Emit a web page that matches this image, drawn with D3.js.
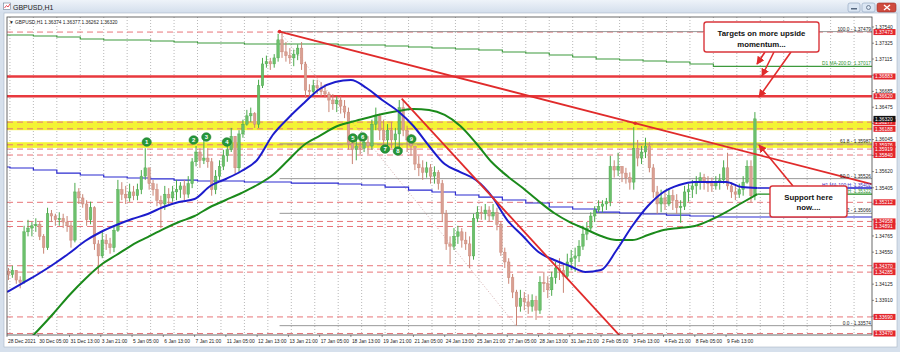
<!DOCTYPE html>
<html><head><meta charset="utf-8">
<script src="https://cdn.jsdelivr.net/npm/d3@7"></script>
<style>html,body{margin:0;padding:0;background:#d9e3ef;}svg{display:block;font-family:"Liberation Sans",Arial,sans-serif;}</style>
</head><body><svg id="c" width="900" height="352"></svg>
<script>
// ---------- DATA ----------
const symbol = "GBPUSD,H1";
const infoLine = "GBPUSD,H1  1.36374 1.36377 1.36262 1.36320";
const barsPerCandle = 4;            // each drawn candle groups 4 hourly bars
const firstOpen = 1.3430;
const highs = [1.3434,1.3437,1.3431,1.3423,1.3490,1.3498,1.3495,1.3500,1.3495,1.3479,
1.3514,1.3511,1.3506,1.3508,1.3506,1.3503,1.3495,1.3547,1.3540,1.3532,
1.3524,1.3522,1.3516,1.3471,1.3482,1.3479,1.3474,1.3490,1.3551,1.3548,
1.3543,1.3546,1.3543,1.3546,1.3564,1.3593,1.3567,1.3551,1.3546,1.3530,
1.3543,1.3540,1.3543,1.3551,1.3548,1.3551,1.3556,1.3580,1.3596,1.3593,
1.3608,1.3593,1.3580,1.3564,1.3577,1.3591,1.3601,1.3620,1.3609,1.3617,
1.3631,1.3644,1.3647,1.3641,1.3684,1.3713,1.3716,1.3713,1.3718,1.3745,
1.37479,1.3734,1.3726,1.3724,1.3731,1.3734,1.3708,1.3678,1.3684,1.3684,
1.3681,1.3678,1.3668,1.3665,1.3662,1.3662,1.3657,1.3647,1.3607,1.3604,
1.3609,1.3612,1.3609,1.3631,1.3647,1.3639,1.3631,1.3625,1.3628,1.3620,
1.3657,1.3657,1.3623,1.3612,1.3596,1.3583,1.3577,1.3575,1.3572,1.3569,
1.3564,1.3551,1.3511,1.3476,1.3487,1.3490,1.3487,1.3482,1.3476,1.3506,
1.3516,1.3516,1.3519,1.3516,1.3519,1.3514,1.3495,1.3461,1.3447,1.3426,
1.3405,1.3405,1.3402,1.3399,1.3399,1.3397,1.3423,1.3429,1.3423,1.3429,
1.3442,1.3447,1.3439,1.3453,1.3458,1.3461,1.3471,1.3490,1.3495,1.3508,
1.3516,1.3524,1.3524,1.3527,1.3583,1.3577,1.3587,1.3569,1.3567,1.3561,
1.3621,1.3604,1.3596,1.3607,1.3601,1.3572,1.3543,1.3538,1.3535,1.3540,
1.3538,1.3532,1.3524,1.3543,1.3546,1.3551,1.3556,1.3561,1.3559,1.3556,
1.3554,1.3556,1.3559,1.3577,1.3587,1.3548,1.3543,1.3546,1.3556,1.3577,
1.3577,1.3641];
const lows = [1.3418,1.3421,1.3413,1.3407,1.3413,1.3476,1.3476,1.3482,1.3471,1.3453,
1.3458,1.3495,1.3490,1.3490,1.3487,1.3482,1.3461,1.3468,1.3519,1.3514,
1.3490,1.3492,1.3458,1.3426,1.3447,1.3458,1.3453,1.3455,1.3482,1.3524,
1.3519,1.3522,1.3524,1.3524,1.3532,1.3551,1.3538,1.3530,1.3516,1.3487,
1.3511,1.3519,1.3522,1.3524,1.3527,1.3524,1.3527,1.3540,1.3569,1.3567,
1.3572,1.3567,1.3530,1.3532,1.3551,1.3564,1.3575,1.3588,1.3559,1.3561,
1.3607,1.3623,1.3628,1.3620,1.3620,1.3673,1.3700,1.3697,1.3700,1.3708,
1.3713,1.3708,1.3705,1.3702,1.3710,1.3697,1.3660,1.3660,1.3662,1.3665,
1.3662,1.3660,1.3641,1.3644,1.3641,1.3639,1.3633,1.3591,1.3572,1.3577,
1.3585,1.3588,1.3585,1.3591,1.3617,1.3604,1.3591,1.3596,1.3593,1.3588,
1.3591,1.3609,1.3588,1.3583,1.3564,1.3556,1.3551,1.3554,1.3546,1.3546,
1.3538,1.3495,1.3458,1.3439,1.3458,1.3466,1.3461,1.3458,1.3434,1.3445,
1.3495,1.3498,1.3498,1.3495,1.3498,1.3484,1.3450,1.3434,1.3413,1.3394,
1.33574,1.3376,1.3378,1.3373,1.3376,1.3365,1.3373,1.3402,1.3394,1.3397,
1.3413,1.3418,1.3401,1.3421,1.3431,1.3429,1.3442,1.3458,1.3471,1.3482,
1.3495,1.3508,1.3508,1.3511,1.3516,1.3554,1.3556,1.3548,1.3546,1.3538,
1.3538,1.3569,1.3572,1.3580,1.3561,1.3527,1.3506,1.3508,1.3511,1.3516,
1.3511,1.3506,1.3494,1.3511,1.3522,1.3527,1.3532,1.3538,1.3538,1.3535,
1.3535,1.3538,1.3538,1.3546,1.3538,1.3527,1.3524,1.3527,1.3530,1.3546,
1.3521,1.3524];
const closes = [1.3425,1.3431,1.3418,1.3415,1.3482,1.3487,1.3490,1.3492,1.3476,1.3461,
1.3506,1.3503,1.3498,1.3500,1.3495,1.3490,1.3471,1.3535,1.3527,1.3519,
1.3498,1.3514,1.3466,1.3450,1.3471,1.3466,1.3461,1.3484,1.3538,1.3532,
1.3527,1.3535,1.3530,1.3538,1.3556,1.3567,1.3546,1.3538,1.3524,1.3519,
1.3532,1.3527,1.3535,1.3538,1.3543,1.3532,1.3546,1.3575,1.3588,1.3577,
1.3580,1.3575,1.3538,1.3556,1.3569,1.3583,1.3591,1.3609,1.3567,1.3612,
1.3625,1.3636,1.3639,1.3625,1.3676,1.3705,1.3708,1.3705,1.3713,1.3737,
1.3721,1.3716,1.3713,1.3718,1.3726,1.3705,1.3670,1.3668,1.3676,1.3673,
1.3668,1.3665,1.3657,1.3652,1.3657,1.3649,1.3641,1.3599,1.3591,1.3596,
1.3593,1.3601,1.3596,1.3625,1.3636,1.3617,1.3604,1.3617,1.3604,1.3612,
1.3647,1.3617,1.3604,1.3596,1.3572,1.3567,1.3561,1.3567,1.3556,1.3561,
1.3546,1.3506,1.3466,1.3463,1.3476,1.3482,1.3471,1.3466,1.3450,1.3500,
1.3508,1.3506,1.3511,1.3503,1.3508,1.3492,1.3455,1.3442,1.3421,1.3402,
1.3383,1.3394,1.3389,1.3383,1.3391,1.3378,1.3415,1.3413,1.3405,1.3421,
1.3434,1.3431,1.3423,1.3442,1.3447,1.3450,1.3463,1.3479,1.3487,1.3503,
1.3511,1.3516,1.3519,1.3522,1.3569,1.3564,1.3569,1.3560,1.3554,1.3548,
1.3593,1.3580,1.3588,1.3596,1.3567,1.3535,1.3519,1.3527,1.3519,1.3530,
1.3524,1.3514,1.3516,1.3535,1.3538,1.3543,1.3548,1.3554,1.3548,1.3546,
1.3543,1.3548,1.3551,1.3567,1.3543,1.3535,1.3532,1.3538,1.3548,1.3569,
1.3530,1.3632];

// hourly moving averages, one value every 16 bars
const maStep = 16;
const ma100H1 = [1.34021,1.34140,1.34260,1.34393,1.34539,1.34698,1.34818,1.34911,1.34990,1.35057,
1.35150,1.35216,1.35256,1.35429,1.35522,1.35628,1.35774,1.36106,1.36332,1.36531,
1.36717,1.36810,1.36836,1.36730,1.36571,1.36424,1.36225,1.35960,1.35720,1.35614,
1.35508,1.35296,1.34977,1.34764,1.34552,1.34446,1.34366,1.34286,1.34313,1.34579,
1.34897,1.35163,1.35349,1.35442,1.35482,1.35482,1.35482,1.35415,1.35402];
const ma200H1 = [1.33091,1.33304,1.33516,1.33742,1.33981,1.34194,1.34379,1.34512,1.34645,1.34751,
1.34857,1.34950,1.35030,1.35150,1.35243,1.35336,1.35442,1.35575,1.35774,1.35973,
1.36093,1.36212,1.36278,1.36332,1.36385,1.36424,1.36451,1.36438,1.36372,1.36225,
1.36000,1.35747,1.35561,1.35402,1.35229,1.35070,1.34950,1.34857,1.34764,1.34711,
1.34711,1.34778,1.34844,1.34871,1.34897,1.34977,1.35083,1.35203,1.35322];
// daily moving averages, one value per trading day (first = partial day)
const d1Ma200 = [1.37434,1.37434,1.37421,1.37407,1.37381,1.37367,1.37367,1.37354,1.37341,1.37328,
1.37328,1.37314,1.37314,1.37314,1.37314,1.37301,1.37301,1.37288,1.37274,1.37261,
1.37248,1.37235,1.37208,1.37195,1.37168,1.37142,1.37115,1.37102,1.37089,1.37075,
1.37049,1.37017];
const d1Ma100 = [1.35681,1.35668,1.35641,1.35601,1.35575,1.35548,1.35535,1.35522,1.35508,1.35495,
1.35495,1.35482,1.35482,1.35468,1.35468,1.35455,1.35442,1.35415,1.35375,1.35349,
1.35309,1.35282,1.35243,1.35203,1.35150,1.35123,1.35083,1.35070,1.35057,1.35043,
1.35030,1.35017];

const dateLabels = ["28 Dec 2021","30 Dec 05:00","31 Dec 13:00","3 Jan 21:00","5 Jan 05:00","6 Jan 13:00",
"7 Jan 21:00","11 Jan 05:00","12 Jan 13:00","13 Jan 21:00","17 Jan 05:00","18 Jan 13:00","19 Jan 21:00",
"21 Jan 05:00","24 Jan 13:00","25 Jan 21:00","27 Jan 05:00","28 Jan 13:00","31 Jan 21:00","2 Feb 05:00",
"3 Feb 13:00","4 Feb 21:00","8 Feb 05:00","9 Feb 13:00"];
const barsPerLabel = 32;
const priceTicks = [1.37540,1.37325,1.37115,1.36900,1.36685,1.36475,1.36260,1.36045,1.35835,1.35620,
1.35405,1.35190,1.34980,1.34765,1.34550,1.34340,1.34125,1.33910,1.33700];

const thickRedLevels = [1.36883,1.36620];
const dashedLevels = [1.37473,1.36277,1.36188,1.35976,1.35919,1.35840,1.35212,1.34958,1.34891,1.34370,1.34285,1.33690,1.33470];
const yellowBands = [[1.36290,1.36170],[1.36010,1.35935]];
const fibHigh = 1.37479, fibLow = 1.33574, fibHighBar = 279, fibLowBar = 521;
const fibLevels = [100.0, 61.8, 50.0, 38.2, 0.0];
const trendA = [[279,1.37479],[643,1.36262]];
const trendB = [[404,1.36590],[587,1.34008]];
const lastPrice = 1.36320;
const markerBars = [143,191,204,225,354,364,387,400,414];
const markerPrices = [1.36013,1.36039,1.36079,1.36013,1.36066,1.36079,1.35920,1.35893,1.36053];
const targetNote = ["Targets on more upside","momentum..."];
const supportNote = ["Support  here","now...."];

// ---------- SCALES ----------
const svg = d3.select("#c");
const P = {l:7,t:17,r:872,b:335};
const pxPerBar = 0.977;
const lastBarAtEdge = Math.round((P.r - P.l)/pxPerBar);
const x = d3.scaleLinear().domain([0,lastBarAtEdge]).range([P.l, P.l+lastBarAtEdge*pxPerBar]);
const y = d3.scaleLinear().domain([1.33450,1.37673]).range([P.b,P.t]);

// ---------- WINDOW CHROME ----------
const defs = svg.append("defs");
const g1 = defs.append("linearGradient").attr("id","tb").attr("x1",0).attr("x2",0).attr("y1",0).attr("y2",1);
g1.append("stop").attr("offset","0").attr("stop-color","#eef3f9");
g1.append("stop").attr("offset","1").attr("stop-color","#d3deec");
svg.append("rect").attr("width",900).attr("height",352).attr("fill","#d6e0ec");
svg.append("rect").attr("width",900).attr("height",13).attr("fill","url(#tb)");
svg.append("rect").attr("x",4).attr("y",13).attr("width",893).attr("height",334).attr("fill","#fff").attr("stroke","#a9b6c6").attr("stroke-width",0.6);
// icon + title
svg.append("rect").attr("x",3.5).attr("y",3).attr("width",7).attr("height",6.5).attr("fill","#fff").attr("stroke","#6b7d93").attr("stroke-width",0.6);
svg.append("path").attr("d","M4.5 8 L6.5 5.5 L8 7 L10 4").attr("fill","none").attr("stroke","#d23").attr("stroke-width",0.8);
svg.append("text").attr("x",13).attr("y",9.5).attr("font-size",7).attr("fill","#1b1b1b").text(symbol);
// buttons
const btn=(bx,w,fill,stroke)=>svg.append("rect").attr("x",bx).attr("y",3).attr("width",w).attr("height",9).attr("rx",2).attr("fill",fill).attr("stroke",stroke).attr("stroke-width",0.6);
btn(848,12,"#dbe6f3","#8fa3bd"); btn(862,13,"#dbe6f3","#8fa3bd"); btn(877,19,"#cf4b3f","#9b2e25");
svg.append("rect").attr("x",851).attr("y",8).attr("width",6).attr("height",1.5).attr("fill","#55677f");
svg.append("circle").attr("cx",868.5).attr("cy",7.5).attr("r",2).attr("fill","none").attr("stroke","#55677f").attr("stroke-width",0.8);
svg.append("path").attr("d","M884 5 L890 10 M890 5 L884 10").attr("stroke","#fff").attr("stroke-width",1.4);

// ---------- PLOT ----------
defs.append("clipPath").attr("id","clip").append("rect").attr("x",P.l).attr("y",P.t).attr("width",P.r-P.l).attr("height",P.b-P.t);
const plot = svg.append("g").attr("clip-path","url(#clip)");

// day grid (day boundaries every 24 bars, first at bar 3)
const dayStarts = d3.range(3, lastBarAtEdge, 24);
plot.selectAll(".vg").data(dayStarts).join("line").attr("x1",d=>x(d)).attr("x2",d=>x(d))
  .attr("y1",P.t).attr("y2",P.b).attr("stroke","#9a9a9a").attr("stroke-width",0.7).attr("stroke-dasharray","1,2");

// yellow zones
plot.selectAll(".yb").data(yellowBands).join("rect").attr("x",P.l).attr("width",P.r-P.l)
  .attr("y",d=>y(d[0])).attr("height",d=>y(d[1])-y(d[0])).attr("fill","#f3f335");
// dashed levels
plot.selectAll(".dl").data(dashedLevels).join("line").attr("x1",P.l).attr("x2",P.r)
  .attr("y1",d=>y(d)).attr("y2",d=>y(d)).attr("stroke","#e8767a").attr("stroke-width",1).attr("stroke-dasharray","6,4");
// thick red levels
plot.selectAll(".tl").data(thickRedLevels).join("line").attr("x1",P.l).attr("x2",P.r)
  .attr("y1",d=>y(d)).attr("y2",d=>y(d)).attr("stroke","#e8393e").attr("stroke-width",2.4);

// fibonacci
const fibPrice = lv => fibLow + (fibHigh-fibLow)*lv/100;
plot.selectAll(".fl").data(fibLevels).join("line").attr("x1",x(fibHighBar)).attr("x2",P.r)
  .attr("y1",d=>y(fibPrice(d))).attr("y2",d=>y(fibPrice(d))).attr("stroke","#8c8c8c").attr("stroke-width",0.9);
plot.append("line").attr("x1",x(fibHighBar)).attr("y1",y(fibHigh)).attr("x2",x(fibLowBar)).attr("y2",y(fibLow))
  .attr("stroke","#c99a9a").attr("stroke-width",0.8).attr("stroke-dasharray","1,2");

// daily MAs (step lines)
const dayX = i => 3 + 24*(i-1);
function stepLine(vals,color,w){
  const pts = vals.map((v,i)=>[dayX(i),v]); pts.push([lastBarAtEdge+2, vals[vals.length-1]]);
  plot.append("path").attr("d",d3.line().x(d=>x(d[0])).y(d=>y(d[1])).curve(d3.curveStepAfter)(pts))
    .attr("fill","none").attr("stroke",color).attr("stroke-width",w);
}
stepLine(d1Ma200,"#3d9a3d",1.1);
stepLine(d1Ma100,"#2b2bd0",1.2);

// candles
const candles = closes.map((c,k)=>({k, o: k? closes[k-1]: firstOpen, h: highs[k], l: lows[k], c}));
const cx = k => x(k*barsPerCandle + 1.5);
const cg = plot.append("g");
cg.selectAll("line").data(candles).join("line").attr("x1",d=>cx(d.k)).attr("x2",d=>cx(d.k))
  .attr("y1",d=>y(Math.max(d.h,d.o,d.c))).attr("y2",d=>y(Math.min(d.l,d.o,d.c)))
  .attr("stroke",d=>d.c>=d.o?"#4aa84a":"#c98474").attr("stroke-width",1);
cg.selectAll("rect").data(candles).join("rect").attr("x",d=>cx(d.k)-1.3).attr("width",2.6)
  .attr("y",d=>y(Math.max(d.o,d.c))).attr("height",d=>Math.max(1,Math.abs(y(d.o)-y(d.c))))
  .attr("fill",d=>d.c>=d.o?"#6cc06c":"#d9a093").attr("stroke",d=>d.c>=d.o?"#4aa84a":"#c98474").attr("stroke-width",0.4);

// hourly MAs
function maLine(vals,color){
  const pts = vals.map((v,i)=>[i*maStep, v]);
  plot.append("path").attr("d",d3.line().x(d=>x(d[0])).y(d=>y(d[1])).curve(d3.curveMonotoneX)(pts))
    .attr("fill","none").attr("stroke",color).attr("stroke-width",2);
  const lv = vals[vals.length-1];
  plot.append("line").attr("x1",x((vals.length-1)*maStep)).attr("x2",P.r).attr("y1",y(lv)).attr("y2",y(lv))
    .attr("stroke",color).attr("stroke-width",1.3);
}
maLine(ma200H1,"#1b8a1b");
maLine(ma100H1,"#1c1ccc");

// trendlines
function trend(t, toEdge){
  const s = (t[1][1]-t[0][1])/(t[1][0]-t[0][0]);
  const endBar = toEdge ? lastBarAtEdge : t[0][0] + (fibLow - 0.002 - t[0][1])/s;
  plot.append("line").attr("x1",x(t[0][0])).attr("y1",y(t[0][1])).attr("x2",x(endBar)).attr("y2",y(t[0][1]+s*(endBar-t[0][0])))
    .attr("stroke","#e02b2b").attr("stroke-width",1.8);
}
trend(trendA,true);
trend(trendB,false);
plot.selectAll(".td").data([trendA[0],trendA[1]]).join("circle").attr("cx",d=>x(d[0])).attr("cy",d=>y(d[1])).attr("r",1.8).attr("fill","#e02b2b");

// numbered markers
const mk = plot.selectAll(".mk").data(markerBars).join("g").attr("transform",(d,i)=>`translate(${x(d)},${y(markerPrices[i])})`);
mk.append("ellipse").attr("rx",4.6).attr("ry",4.3).attr("fill","#27973a").attr("stroke","#177a28").attr("stroke-width",0.6);
mk.append("text").attr("text-anchor","middle").attr("y",2).attr("font-size",6).attr("font-weight","bold").attr("fill","#fff").text((d,i)=>i+1);

// line labels
const lab = (tx,ty,t,col)=>plot.append("text").attr("x",tx).attr("y",ty).attr("text-anchor","end").attr("font-size",4.8).attr("fill",col).text(t);
fibLevels.forEach(lv=>lab(P.r-1, y(fibPrice(lv))-1, `${lv.toFixed(1)} - ${fibPrice(lv).toFixed(5)}`, "#222"));
lab(P.r-1, y(d1Ma200[d1Ma200.length-1])-1.2, `D1 MA-200:D: ${d1Ma200[d1Ma200.length-1].toFixed(5)}`, "#2f8f2f");
lab(P.r-1, y(ma100H1[ma100H1.length-1])-1.5, `H1 MA-100:H: ${ma100H1[ma100H1.length-1].toFixed(5)}`, "#3a2fc0");
lab(P.r-1, y(ma200H1[ma200H1.length-1])-1, `H1 MA-200:H: ${ma200H1[ma200H1.length-1].toFixed(5)}`, "#2f8f2f");

// annotation boxes + arrows
const ann = svg.append("g");
defs.append("marker").attr("id","ah").attr("viewBox","0 0 10 10").attr("refX",9).attr("refY",5)
  .attr("markerWidth",5).attr("markerHeight",5).attr("orient","auto")
  .append("path").attr("d","M0,0 L10,5 L0,10 z").attr("fill","#e02b2b");
const arrow=(x1,y1,x2,y2)=>ann.append("line").attr("x1",x1).attr("y1",y1).attr("x2",x2).attr("y2",y2)
  .attr("stroke","#e02b2b").attr("stroke-width",1.6).attr("marker-end","url(#ah)");
arrow(765,52,757,64); arrow(774,52,762,76); arrow(791,52,759,97);
arrow(793,186,759,145);
function box(bx,by,bw,bh,lines,ty,dy){
  ann.append("rect").attr("x",bx).attr("y",by).attr("width",bw).attr("height",bh).attr("rx",2.5)
    .attr("fill","#fff").attr("stroke","#d9363b").attr("stroke-width",1.4);
  lines.forEach((t,i)=>ann.append("text").attr("x",bx+bw/2).attr("y",ty+i*dy).attr("text-anchor","middle")
    .attr("font-size",7.8).attr("font-weight","bold").attr("fill","#111").text(t));
}
box(704,22,115,30,targetNote,35.5,11);
box(770,186,77,31,supportNote,200,9.5);

// plot frame
svg.append("rect").attr("x",P.l).attr("y",P.t).attr("width",P.r-P.l).attr("height",P.b-P.t).attr("fill","none").attr("stroke","#444").attr("stroke-width",0.8);
svg.append("text").attr("x",9).attr("y",23.5).attr("font-size",4.8).attr("fill","#222").text("\u25BC "+infoLine);

// right axis
const tagLevels = [...thickRedLevels,...dashedLevels,lastPrice];
const shownTicks = priceTicks.filter(t=>tagLevels.every(p=>Math.abs(y(t)-y(p))>4.5));
const ax = svg.append("g");
ax.selectAll(".pt").data(priceTicks).join("line").attr("x1",P.r).attr("x2",P.r+2).attr("y1",d=>y(d)).attr("y2",d=>y(d)).attr("stroke","#444").attr("stroke-width",0.6);
ax.selectAll(".ptl").data(shownTicks).join("text").attr("x",P.r+3).attr("y",d=>y(d)+1.8).attr("font-size",4.9).attr("fill","#222").text(d=>d.toFixed(5));
const tag=(p,fill)=>{ax.append("rect").attr("x",P.r+1.5).attr("y",y(p)-3).attr("width",22).attr("height",6).attr("fill",fill);
  ax.append("text").attr("x",P.r+3).attr("y",y(p)+1.8).attr("font-size",4.9).attr("fill","#fff").text(p.toFixed(5));};
[...thickRedLevels,...dashedLevels].forEach(p=>tag(p,"#e3262c"));
tag(lastPrice,"#111");

// bottom axis
ax.selectAll(".xt").data(dateLabels).join("line").attr("x1",(d,i)=>x(i*barsPerLabel)).attr("x2",(d,i)=>x(i*barsPerLabel))
  .attr("y1",P.b).attr("y2",P.b+2).attr("stroke","#444").attr("stroke-width",0.6);
ax.selectAll(".xl").data(dateLabels).join("text").attr("x",(d,i)=>x(i*barsPerLabel)+1).attr("y",343)
  .attr("font-size",4.9).attr("fill","#222").text(d=>d);
</script></body></html>
